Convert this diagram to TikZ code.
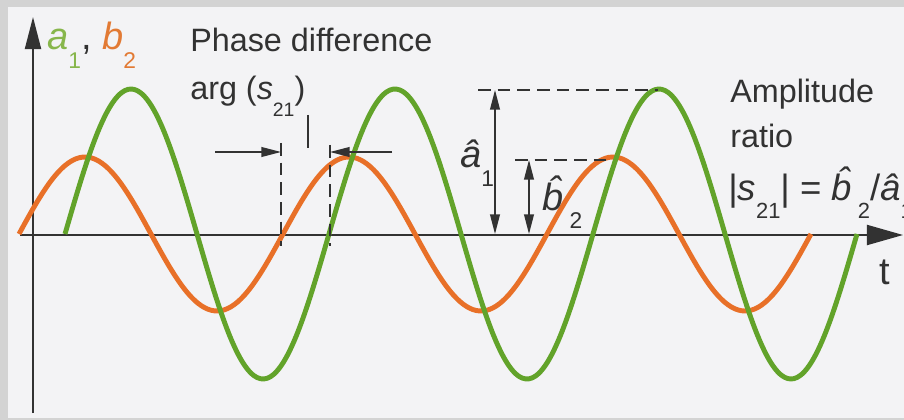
\documentclass[tikz,border=0pt]{standalone}
\usepackage{fontspec}
\setmainfont{Liberation Sans}
\usetikzlibrary{arrows.meta}
\usetikzlibrary{positioning}

\definecolor{wavegreen}{RGB}{98,163,42}
\definecolor{waveorange}{RGB}{232,112,40}
\definecolor{labelgreen}{RGB}{135,182,75}
\definecolor{labelorange}{RGB}{226,122,52}
\definecolor{inkgray}{RGB}{50,50,50}
\definecolor{framegray}{RGB}{211,211,211}
\definecolor{panelgray}{RGB}{243,243,245}

\newcommand{\vsym}[2]{\textit{#1}\raisebox{-0.5em}{\scalebox{0.6}{#2}}}

\tikzset{
  wave/.style={line width=3.5pt, line join=round},
  axisline/.style={line width=1.4pt, inkgray},
  dimline/.style={line width=1pt, inkgray, >={Triangle[length=14pt,width=7pt]}},
  guide/.style={line width=1pt, inkgray, dash pattern=on 9pt off 5pt},
  txt/.style={anchor=base west, inner sep=0pt, text=inkgray, font=\fontsize{23}{23}\selectfont},
  bigtxt/.style={txt, font=\fontsize{27}{27}\selectfont}
}

\begin{document}
\begin{tikzpicture}[x=0.025cm, y=-0.025cm]
      \fill [framegray] (0,0) rectangle (904,420);
      \fill [panelgray] (8,7) rectangle (904,418);
      \useasboundingbox (0,0) rectangle (904,420);

      % axes
      \coordinate (ybot) at (33,413);
      \coordinate (ytip) at (33,17);
      \coordinate (xstart) at (20,235);
      \coordinate (xtip) at (903,235);
      \draw [axisline, -{Triangle[length=0.8cm,width=0.4cm]}] (ybot) -- (ytip);
      \draw [axisline, -{Triangle[length=0.9cm,width=0.5cm]}] (xstart) -- (xtip);

      % the two waves
      \draw [wave, waveorange] plot [domain=19:811, samples=240, smooth] (\x, {234-77*sin((\x-19)/264*360)});
      \draw [wave, wavegreen] plot [domain=65:857, samples=240, smooth] (\x, {234-145*sin((\x-65)/264*360)});

      % phase difference
      \coordinate (phL) at (281,143);
      \coordinate (phLb) at (281,246);
      \coordinate (phR) at (330,145);
      \coordinate (phRb) at (330,246);
      \coordinate (arrL) at (215,152);
      \coordinate (arrR) at (392,152);
      \coordinate (tickT) at (308,115);
      \coordinate (tickB) at (308,148);
      \draw [guide] (phL) -- (phLb);
      \draw [guide] (phR) -- (phRb);
      \draw [dimline, ->] (arrL) -- (phL |- arrL);
      \draw [dimline, ->] (arrR) -- (phR |- arrR);
      \draw [dimline] (tickT) -- (tickB);

      % amplitudes
      \coordinate (a1peak) at (658,90);
      \coordinate (a1guide) at (478,90);
      \coordinate (a1top) at (495,90);
      \coordinate (a1bot) at (495,234);
      \coordinate (b2peak) at (610,160);
      \coordinate (b2guide) at (515,160);
      \coordinate (b2top) at (529,160);
      \coordinate (b2bot) at (529,234);
      \draw [guide] (a1guide) -- (a1peak);
      \draw [guide] (b2guide) -- (b2peak);
      \draw [dimline, <->] (a1top) -- (a1bot);
      \draw [dimline, <->] (b2top) -- (b2bot);

      \node [bigtxt] (axlbl) at (47,50) {\textcolor{labelgreen}{\vsym{a}{1}}, \textcolor{labelorange}{\vsym{b}{2}}};
      \node [txt] (phase) at (190,52) {Phase difference};
      \node [txt] (arg) at (190,100) {arg (\vsym{s}{21})};
      \node [txt] (amp) at (730,103) {Amplitude};
      \node [txt] (ratio) at (730,148) {ratio};
      \node [txt, font=\fontsize{26}{26}\selectfont] (ratioeq) at (728,200) {|\vsym{s}{21}| = \vsym{\^b}{2}/\vsym{\^a}{1}};
      \node [bigtxt] (ahat) at (460,168) {\vsym{\^a}{1}};
      \node [bigtxt] (bhat) at (542,210) {\vsym{\^b}{2}};
      \node [bigtxt] (tlbl) at (879,285) {t};
    \end{tikzpicture}
\end{document}
